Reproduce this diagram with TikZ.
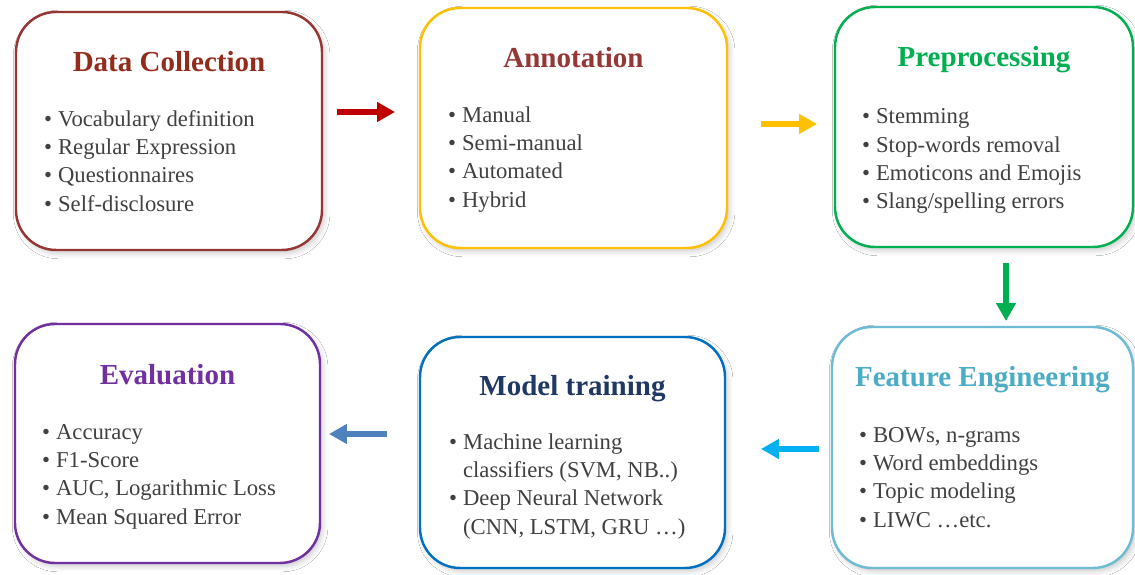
\documentclass[tikz,border=0pt]{standalone}
\usepackage{fontspec}
\setmainfont{Liberation Serif}
\usetikzlibrary{arrows.meta, shadows.blur}

\definecolor{dcred}{RGB}{149,55,53}
\definecolor{dctitle}{RGB}{148,44,30}
\definecolor{angold}{RGB}{255,192,0}
\definecolor{ppgreen}{RGB}{0,176,80}
\definecolor{feblue}{RGB}{110,188,212}
\definecolor{fetitle}{RGB}{75,172,198}
\definecolor{mtblue}{RGB}{0,112,192}
\definecolor{mttitle}{RGB}{31,56,100}
\definecolor{evpurple}{RGB}{112,48,160}
\definecolor{txtgray}{RGB}{64,64,64}
\definecolor{arrred}{RGB}{192,0,0}
\definecolor{arrcyan}{RGB}{0,176,240}
\definecolor{arrsteel}{RGB}{79,129,189}

\newcommand{\itm}{\strut\makebox[0.28cm][l]{\textbullet}}
\newcommand{\cnt}{\strut\hspace{0.28cm}}

\begin{document}
\begin{tikzpicture}[
    stage/.style={draw=#1, rounded corners=0.8cm, line width=1.4pt, fill=white,
        blur shadow={shadow xshift=1.5pt, shadow yshift=-2pt, shadow blur radius=3pt, shadow opacity=20}},
    title/.style={font=\fontsize{16.5}{19}\selectfont\bfseries, anchor=base, inner sep=0pt},
    items/.style={font=\fontsize{12.9}{16.2}\selectfont, text=txtgray, align=left, anchor=north west, inner sep=0pt},
    flow/.style={line width=3.4pt, -{Triangle[length=0.36cm, width=0.38cm]}}]

        \useasboundingbox[fill=white] (0,0) rectangle (22.7,11.5);

        % top row
        \node[stage=dcred, minimum width=6.12cm, minimum height=4.76cm] (dc) at (3.38,8.88) {};
        \node[stage=angold, minimum width=6.14cm, minimum height=4.80cm] (an) at (11.47,8.94) {};
        \node[stage=ppgreen, minimum width=5.96cm, minimum height=4.80cm] (pp) at (19.68,8.96) {};

        % bottom row
        \node[stage=evpurple, minimum width=6.10cm, minimum height=4.78cm] (ev) at (3.35,2.63) {};
        \node[stage=mtblue, minimum width=6.10cm, minimum height=4.62cm] (mt) at (11.45,2.45) {};
        \node[stage=feblue, minimum width=6.02cm, minimum height=4.82cm] (fe) at (19.65,2.55) {};

        \node[title, text=dctitle] (dc-t) at ([yshift=-1.22cm]dc.north) {Data Collection};
        \node[items] (dc-l) at ([xshift=0.58cm, yshift=-1.9cm]dc.north west)
            {\itm Vocabulary definition\\ \itm Regular Expression\\ \itm Questionnaires\\ \itm Self-disclosure};

        \node[title, text=dcred] (an-t) at ([yshift=-1.22cm]an.north) {Annotation};
        \node[items] (an-l) at ([xshift=0.58cm, yshift=-1.9cm]an.north west)
            {\itm Manual\\ \itm Semi-manual\\ \itm Automated\\ \itm Hybrid};

        \node[title, text=ppgreen] (pp-t) at ([yshift=-1.22cm]pp.north) {Preprocessing};
        \node[items] (pp-l) at ([xshift=0.56cm, yshift=-1.95cm]pp.north west)
            {\itm Stemming\\ \itm Stop-words removal\\ \itm Emoticons and Emojis\\ \itm Slang/spelling errors};

        \node[title, text=evpurple] (ev-t) at ([yshift=-1.24cm]ev.north) {Evaluation};
        \node[items] (ev-l) at ([xshift=0.56cm, yshift=-1.92cm]ev.north west)
            {\itm Accuracy\\ \itm F1-Score\\ \itm AUC, Logarithmic Loss\\ \itm Mean Squared Error};

        \node[title, text=mttitle] (mt-t) at ([yshift=-1.2cm]mt.north) {Model training};
        \node[items] (mt-l) at ([xshift=0.6cm, yshift=-1.86cm]mt.north west)
            {\itm Machine learning\\ \cnt classifiers (SVM, NB..)\\ \itm Deep Neural Network\\ \cnt (CNN, LSTM, GRU …)};

        \node[title, text=fetitle] (fe-t) at ([yshift=-1.22cm]fe.north) {Feature Engineering};
        \node[items] (fe-l) at ([xshift=0.56cm, yshift=-1.92cm]fe.north west)
            {\itm BOWs, n-grams\\ \itm Word embeddings\\ \itm Topic modeling\\ \itm LIWC …etc.};

        % arrows between stages
        \draw[flow, arrred, shorten <=0.275cm, shorten >=0.475cm] ([yshift=0.38cm]dc.east) -- ([yshift=0.38cm]dc.east -| an.west);
        \draw[flow, angold, shorten <=0.655cm, shorten >=0.335cm] ([yshift=0.08cm]an.east) -- ([yshift=0.08cm]an.east -| pp.west);
        \draw[flow, ppgreen, shorten <=0.295cm, shorten >=0.095cm] ([xshift=0.44cm]pp.south) -- ([xshift=0.44cm]pp.south |- fe.north);
        \draw[flow, arrcyan, shorten <=0.235cm, shorten >=0.695cm] ([yshift=-0.03cm]fe.west) -- ([yshift=-0.03cm]fe.west -| mt.east);
        \draw[flow, arrsteel, shorten <=0.635cm, shorten >=0.155cm] ([yshift=0.37cm]mt.west) -- ([yshift=0.37cm]mt.west -| ev.east);

    \end{tikzpicture}
\end{document}
